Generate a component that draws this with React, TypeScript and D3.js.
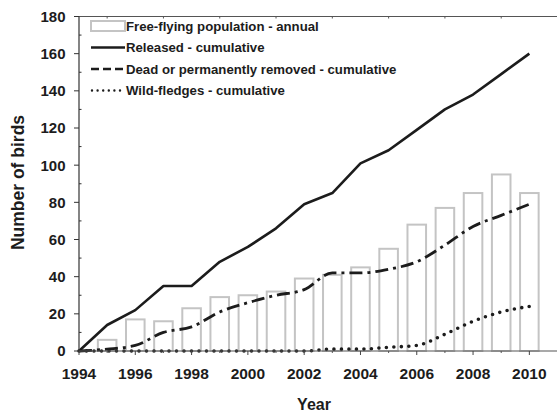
import * as d3 from "d3";

// years shown on the axis and data points
const years = [
  1994, 1995, 1996, 1997, 1998, 1999, 2000, 2001, 2002, 2003, 2004, 2005,
  2006, 2007, 2008, 2009, 2010,
];

// free-flying population (annual bars, from 1995)
const barYears = [
  1995, 1996, 1997, 1998, 1999, 2000, 2001, 2002, 2003, 2004, 2005, 2006,
  2007, 2008, 2009, 2010,
];
const freeFlying = [6, 17, 16, 23, 29, 30, 32, 39, 41, 45, 55, 68, 77, 85, 95, 85];

// cumulative series
const released = [0, 14, 22, 35, 35, 48, 56, 66, 79, 85, 101, 108, 119, 130, 138, 149, 160];
const dead = [0, 1, 3, 10, 13, 21, 26, 30, 33, 42, 42, 44, 48, 57, 67, 73, 79];
const wildFledges = [0, 0, 0, 0, 0, 0, 0, 0, 0, 1, 1, 2, 3, 9, 16, 21, 24];

const xTicks = [1994, 1996, 1998, 2000, 2002, 2004, 2006, 2008, 2010];
const yTicks = [0, 20, 40, 60, 80, 100, 120, 140, 160, 180];

const legendLabels = [
  "Free-flying population - annual",
  "Released - cumulative",
  "Dead or permanently removed - cumulative",
  "Wild-fledges - cumulative",
];

const W = 557;
const H = 414;
const FONT = "'Liberation Sans', Arial, Helvetica, sans-serif";
const INK = "#1c1c1c";
const BAR = "#c4c4c4";

export default function App() {
  const x = d3.scaleLinear().domain([1994, 2011]).range([79, 557.5]);
  const y = d3.scaleLinear().domain([0, 180]).range([351, 16.5]);
  const yearStep = x(1995) - x(1994);
  const barW = yearStep * 0.66;

  const linear = d3
    .line<number>()
    .x((_, i) => x(years[i]))
    .y((d) => y(d));
  const smooth = d3
    .line<number>()
    .x((_, i) => x(years[i]))
    .y((d) => y(d))
    .curve(d3.curveMonotoneX);

  const minorY = d3.range(10, 180, 20);
  const oddYears = d3.range(1995, 2011, 2);
  const legendY = legendLabels.map((_, i) => 26 + i * 21.5);

  return (
    <svg
      width={W}
      height={H}
      style={{ position: "absolute", left: 0, top: 0, background: "#fff" }}
      fontFamily={FONT}
      fontWeight="bold"
    >
      {/* bars */}
      {barYears.map((yr, i) => (
        <rect
          key={yr}
          x={x(yr) - barW / 2}
          y={y(freeFlying[i])}
          width={barW}
          height={y(0) - y(freeFlying[i])}
          fill="none"
          stroke={BAR}
          strokeWidth={2}
        />
      ))}

      {/* frame: top line and bottom axis */}
      <line x1={x(1994)} x2={W} y1={y(180)} y2={y(180)} stroke="#555" strokeWidth={1} />
      {oddYears.map((yr) => (
        <line key={"t" + yr} x1={x(yr)} x2={x(yr)} y1={y(180)} y2={y(180) + 2} stroke="#555" />
      ))}

      {/* lines */}
      <path d={linear(released) ?? ""} fill="none" stroke={INK} strokeWidth={2.6} strokeLinejoin="round" />
      <path
        d={smooth(dead) ?? ""}
        fill="none"
        stroke={INK}
        strokeWidth={2.8}
        strokeDasharray="13 5 3 5"
      />
      <path
        d={smooth(wildFledges) ?? ""}
        fill="none"
        stroke={INK}
        strokeWidth={3.6}
        strokeLinecap="round"
        strokeDasharray="0 7.5"
      />

      {/* x axis */}
      <line x1={x(1994)} x2={W} y1={y(0)} y2={y(0)} stroke="#555" strokeWidth={1.2} />
      {xTicks.map((t) => (
        <g key={t}>
          <line x1={x(t)} x2={x(t)} y1={y(0)} y2={y(0) + 4} stroke="#444" />
          <text x={x(t)} y={379} textAnchor="middle" fontSize={15.5} fill={INK}>
            {t}
          </text>
        </g>
      ))}
      {oddYears.map((yr) => (
        <line key={"b" + yr} x1={x(yr)} x2={x(yr)} y1={y(0)} y2={y(0) + 2} stroke="#555" />
      ))}

      {/* y axis */}
      <line x1={x(1994)} x2={x(1994)} y1={y(180)} y2={y(0)} stroke="#333" strokeWidth={1.2} />
      {yTicks.map((t) => (
        <g key={t}>
          <line x1={x(1994) - 5} x2={x(1994)} y1={y(t)} y2={y(t)} stroke="#333" />
          <text
            x={65.5}
            y={y(t)}
            dy="0.36em"
            textAnchor="end"
            fontSize={15}
            fill={INK}
          >
            {t}
          </text>
        </g>
      ))}
      {minorY.map((t) => (
        <line key={"m" + t} x1={x(1994)} x2={x(1994) + 2.5} y1={y(t)} y2={y(t)} stroke="#333" />
      ))}

      {/* axis titles */}
      <text x={314} y={410} textAnchor="middle" fontSize={16} fill={INK}>
        Year
      </text>
      <text
        transform={`translate(23.5,182.5) rotate(-90)`}
        textAnchor="middle"
        fontSize={17.5}
        fill={INK}
      >
        Number of birds
      </text>

      {/* legend */}
      <g>
        <rect x={91} y={legendY[0] - 5} width={34} height={10} fill="none" stroke={BAR} strokeWidth={2} />
        <line x1={91} x2={125} y1={legendY[1]} y2={legendY[1]} stroke={INK} strokeWidth={2.6} />
        <line
          x1={91}
          x2={125}
          y1={legendY[2]}
          y2={legendY[2]}
          stroke={INK}
          strokeWidth={2.6}
          strokeDasharray="8 4"
        />
        <line
          x1={92}
          x2={125}
          y1={legendY[3]}
          y2={legendY[3]}
          stroke={INK}
          strokeWidth={2.4}
          strokeLinecap="round"
          strokeDasharray="0 5.6"
        />
        {legendLabels.map((label, i) => (
          <text key={label} x={126} y={legendY[i]} dy="0.36em" fontSize={13.2} fill={INK}>
            {label}
          </text>
        ))}
      </g>
    </svg>
  );
}
